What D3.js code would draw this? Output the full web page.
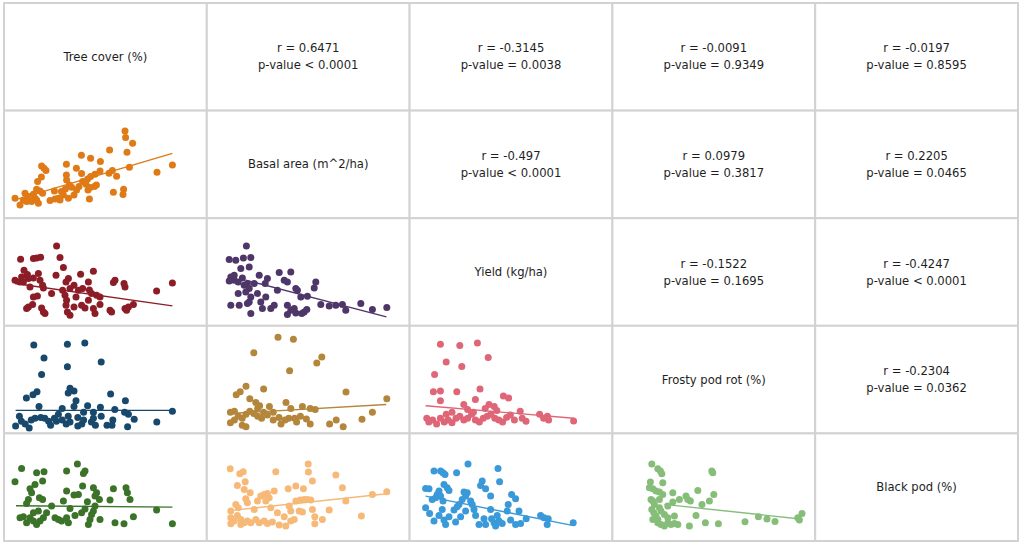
<!DOCTYPE html>
<html>
<head>
<meta charset="utf-8">
<script src="https://cdn.jsdelivr.net/npm/d3@7/dist/d3.min.js"></script>
<style>
  body { margin: 0; background: #fff; }
  text { font-family: "DejaVu Sans", Verdana, sans-serif; font-size: 11.6px; fill: #1e1e1e; }
</style>
</head>
<body>
<div class="chart"></div>
<script>
var svgWidth = 1021;
var svgHeight = 545;

// variables on the diagonal
var variables = ["Tree cover (%)", "Basal area (m^2/ha)", "Yield (kg/ha)", "Frosty pod rot (%)", "Black pod (%)"];

// correlations in the upper triangle: [row, col]
var corrCells = [[0, 1], [0, 2], [0, 3], [0, 4], [1, 2], [1, 3], [1, 4], [2, 3], [2, 4], [3, 4]];
var corrR = ["0.6471", "-0.3145", "-0.0091", "-0.0197", "-0.497", "0.0979", "0.2205", "-0.1522", "-0.4247", "-0.2304"];
var corrP = ["< 0.0001", "= 0.0038", "= 0.9349", "= 0.8595", "< 0.0001", "= 0.3817", "= 0.0465", "= 0.1695", "< 0.0001", "= 0.0362"];

// scatter panels in the lower triangle, values in % of axis range
var treeBasal = [[60.5,84.7],[60.8,78],[64.3,72.3],[61.5,63.3],[52.8,65.7],[38.7,60.3],[43.3,57.3],[48.2,54],[84.2,50.7],[76.5,43.3],[62.7,48.3],[56.3,39.3],[54.2,45],[52.5,42.3],[48,44.7],[45.5,41.3],[43.3,39],[41.8,36.7],[39.3,34],[37.5,29],[41,31.3],[43,28],[45.2,29],[46.2,30.7],[42,25.7],[42.7,16.7],[54.7,23.3],[59.8,26.3],[59.5,21],[31.2,51.3],[36.2,47.3],[38.8,42],[31.2,40.7],[31.3,35.7],[32.7,30.7],[33.8,28.3],[30.7,26.7],[28.7,24],[25.2,24.7],[23,15],[27.2,17.3],[29.7,20.7],[32.2,17.3],[35,20.7],[18.8,49.7],[20,47.3],[21,45],[18.7,38.7],[16.8,34],[16.3,26.3],[18,24.7],[19.3,22.3],[14.7,21.3],[12.2,19],[10.5,22.3],[9.7,15.7],[8,10.7],[5.5,17.3],[13.8,14],[17.2,12.3],[13,17.3],[15.5,17.3],[11.3,14],[25.5,16.7],[36.3,25.7],[14.2,19.7],[16.3,15.7],[28,15.7]];
var treeYield = [[26.3,77.3],[8.3,64],[14.7,64.7],[16.3,65.3],[18.3,66],[28,65.7],[29.7,55.7],[44.7,52],[38.3,49],[26,48],[5.5,43],[10,53],[11.7,48.7],[12.2,44.7],[9.7,41.3],[14.7,45.3],[17.2,49.7],[18,43],[19.3,38],[13,36.3],[19.7,35.3],[32.2,44.7],[31,41.3],[35,38],[33,34.7],[29.3,33],[23.8,29.7],[37.2,33],[42.2,41.3],[39.3,34.7],[42.7,33.3],[43.8,29.7],[46.3,28],[48,26.3],[55.5,43],[54.7,40.7],[60,39.7],[60.5,36.3],[76.3,32.3],[84.2,40.3],[14.7,26.3],[16.7,27.3],[14.3,18.7],[12.2,16.3],[11.3,14.7],[18.8,15.3],[19.7,11.3],[20.5,9.7],[30.5,28],[31.3,23],[31,18],[31.7,11.3],[33,8],[35,16.3],[38.8,18],[40.5,15.3],[42.2,23],[44.7,14.7],[45.5,9.7],[48,18.7],[53.8,11.3],[53,13],[60.5,14.7],[62.2,16.3],[64.7,18.7],[61.3,13],[36,26.3],[8,41.3],[8.8,46.3]];
var basalYield = [[19.8,77.3],[11.2,63.7],[14.5,63],[18.3,65.3],[22,65.7],[21.2,56.3],[17,54.7],[12,46.3],[13.7,43],[11.2,42.3],[15.7,41.3],[17.8,45.3],[18.7,38],[20.3,39.7],[19.5,31.3],[21.2,34.7],[23.7,39.7],[22,26.3],[20.3,19.7],[21.2,21.3],[15.7,29.7],[12,18],[16.2,18],[26.2,48],[30.3,44.7],[29.2,39.7],[25.3,29.7],[29.5,26.3],[33.7,18],[35.3,33],[36.2,50.7],[42,51.3],[38.7,43],[40.3,41.3],[44.5,34.7],[45.3,33],[47,26.3],[50.3,27],[53.7,35.3],[54.5,41.3],[40.3,18],[42,13],[43.7,14.7],[44.5,10.3],[40.3,8.7],[47.5,9.7],[48.7,11.3],[50,13.7],[57,18.7],[61.2,17.3],[64.5,18],[67.8,18.7],[69.5,13],[77,19.7],[82.8,13.7],[90,15.7],[32,14.7],[27.8,14.7],[22,9.7],[27,21.3],[13.7,48]];
var treeFrosty = [[14.9,85.8],[31.7,86.5],[40.4,87.7],[20,72.9],[31.7,64],[48.6,68.7],[18.8,56.2],[33,42.6],[35,39.9],[32.1,37.9],[16.5,39.1],[14.5,36],[11.2,32.9],[36,30.1],[53.3,36.8],[60.7,30.1],[17.5,24.3],[29.1,22.4],[35,24.3],[41.8,25.1],[48.2,23.5],[55.4,21.2],[60.3,18.5],[62.2,16.5],[27.2,16.5],[39.8,18.5],[44.7,18.5],[84.2,19.6],[5.8,4.9],[8.7,9.5],[10.6,6.8],[13.6,10.7],[15.5,12.6],[18.4,13.4],[20.4,12.6],[22.3,9.5],[26.2,9.5],[29.1,10.7],[31.1,6.8],[33,8.8],[36.9,4.9],[38.9,6.8],[39.8,10.7],[43.7,8.8],[45.7,5.6],[51.5,5.6],[54.4,10.7],[54,5.6],[65.1,11.5],[61.8,4.1],[76.4,8.8],[12.6,2.9],[23.3,5.6],[32.1,14.6],[36.9,13.4],[44.7,12.6],[48.6,14.6],[7.7,14.6],[25.2,12.6]];
var basalFrosty = [[35.6,93.6],[43.3,91.6],[23.5,78],[57.5,73.7],[55,67.9],[41.4,60.1],[19.6,44.5],[14.7,36],[16.7,39.1],[28.4,41.8],[21.5,32.1],[24.5,28.2],[26.4,25.1],[31.3,24.3],[39.6,28.2],[42,22.4],[47.8,24.3],[51.7,22.4],[54.2,21.2],[69.6,38.7],[90,32.1],[11.8,18.5],[13.8,19.6],[15.7,14.6],[17.7,12.6],[19.6,16.5],[21.5,19.6],[23.5,17.3],[25.4,14.6],[27.4,12.6],[28.4,18.5],[30.3,15.8],[33.2,10.7],[36.1,13.4],[39.1,10.7],[41,12.6],[43.9,12.6],[46.8,14.6],[49.8,11.9],[51.7,6.8],[44.9,8.8],[37.1,6.8],[17.7,5.6],[11.8,8],[13.8,10.7],[19.6,4.1],[61.4,6.8],[64.7,10.7],[68.2,4.1],[77.6,11.5],[82.8,18.5],[33.2,18.5],[25.4,22.4]];
var yieldFrosty = [[15.4,86.5],[25.1,85.4],[33.9,87.7],[18.3,68.7],[26.1,64.4],[39.3,73.3],[12.5,56.2],[11.9,39.1],[15.4,39.9],[23.6,39.1],[35.2,41.8],[15.4,30.1],[27.1,26.3],[32.9,31.3],[46.9,34.8],[49.5,32.9],[39.7,26.3],[42.3,24.3],[43.6,20.4],[8.6,12.6],[9.6,8.8],[11.5,10.7],[13.5,6.8],[15.4,12.6],[17.3,8.8],[19.3,10.7],[21.2,8],[23.2,12.6],[25.1,14.6],[27.1,10.7],[29,12.6],[31,16.5],[32.9,10.7],[34.9,8.8],[36.8,12.6],[38.8,14.6],[40.7,16.5],[42.6,12.6],[44.6,10.7],[46.5,8.8],[48.5,13.4],[50.4,15.8],[52.4,10.7],[55.3,19.6],[56.3,12.6],[58.2,9.5],[65,16.5],[67,12.6],[68.9,14.6],[69.5,10.7],[82,9.9],[31.9,18.5],[21.2,18.5],[37.8,22.4],[18.3,16.5],[29,21.2]];
var treeBlack = [[8.8,70],[5.5,56.7],[16.3,65.7],[20,66.7],[19.3,57.3],[15.5,54],[13,49.7],[13.8,45.7],[12.2,39],[11.3,35],[17.7,40.7],[19.3,39],[23.8,32.3],[29.7,37.3],[31.3,67.3],[36.7,74.3],[40.5,67.3],[39.7,65],[39.3,52.3],[31.3,47.3],[35,43.3],[37.2,44],[44.7,50.7],[46.3,45.7],[45.5,42.3],[47.7,39],[41.7,36.7],[33,30],[45.5,32.3],[53,38.3],[54.7,49.7],[61,50.7],[61.7,45.7],[63,39],[76.3,28.3],[84.2,14.7],[64.7,21.7],[48,19],[55.5,15.7],[60,14.7],[8,20.7],[9.7,21.7],[11.3,15.7],[13,20.7],[14.7,17.3],[16.3,14],[18,17.3],[19.7,20.7],[17.2,27.3],[14.7,25.7],[21.3,25.7],[25.5,20.7],[27.2,19],[28.8,17.3],[31.3,20.7],[32.2,15.7],[35.5,23],[38.8,25.7],[40.5,29.3],[42.2,14],[43,19],[44.7,27.3],[43.8,24]];
var basalBlack = [[11.7,69.7],[16.5,64.7],[18.2,66.7],[19.2,56.7],[15.3,53],[18.7,49],[21.7,45.7],[19.5,39.7],[20.3,35.7],[14.5,34],[12,27.3],[15.7,30.7],[23.7,29],[27,42.3],[28.7,44],[30.3,45],[31.2,40.7],[29.5,37.3],[33.7,47.3],[25.3,37.3],[32,30.7],[34.5,66.7],[40.7,49.7],[44.5,52.3],[48.3,49.7],[52.8,57.3],[50.7,74.3],[50.8,66.3],[64.5,63.3],[67.8,50.7],[44.5,37.3],[46.7,38.3],[48.7,39],[50.3,39],[52,38.3],[52.8,29],[69.5,37.3],[82.8,44],[90,46.7],[61.2,28.3],[77.3,22.3],[12,20.7],[13.7,17.3],[15.3,23],[17,19],[18.7,15.7],[20.3,17.3],[22,15.7],[24.5,19],[26.2,15.7],[28.7,17.3],[30.3,15],[17,14],[12,14.7],[36.2,13.3],[39.5,12.3],[38.7,21.7],[42,17.3],[43.7,19],[46.2,27.3],[47.8,26.3],[54,21.7],[54,14.7],[57.8,19],[35.3,25.7],[41.2,32.3],[42,27.3],[32.8,16.3]];
var yieldBlack = [[29.2,74.3],[12.2,67.3],[15.5,67.3],[16.7,65.7],[17.7,64],[23.5,65.7],[44.2,70],[45,56.7],[36.3,57.3],[35.5,53],[38,49.7],[8,50],[9.7,49.7],[17.2,54],[18.8,50.7],[19.7,48],[14.7,47.3],[13.8,44],[13,40.7],[11.3,39],[15.5,42.3],[16.7,37.3],[27.2,46.3],[28.8,45.7],[28,42.3],[26.3,39],[24.7,34],[23.8,31.7],[30.5,37.3],[31.3,34],[40.5,42.3],[51,44],[53,39.7],[49.3,34],[8,30.7],[10,25],[16.3,29],[14.7,23],[12.2,17.3],[17.2,18.3],[18,14],[19.7,21.7],[22.2,28.3],[23,16.3],[25.5,21.7],[28,27.3],[32.2,29],[33,23],[34.7,14],[37.2,19.7],[38,14],[40.5,29],[41,19.7],[42.2,15.7],[43,12.3],[44.7,17.3],[46.3,15],[43.8,23],[48.8,27.3],[50.5,18.3],[53,14],[54.7,27.3],[55.5,15],[58.3,19.7],[65.5,23],[67.2,20.7],[69.3,19.7],[68.8,14],[81.8,15.7]];
var frostyBlack = [[19.7,74.3],[22.7,69.7],[24,67.3],[24.7,64.7],[25.2,55.7],[19,56.3],[18.5,50.7],[20.2,49.7],[21.8,47.3],[23.5,46.3],[19.3,39],[20.2,37.3],[21,34],[19.7,29],[20.7,25.7],[21.8,22.3],[22.7,19],[20.2,19],[22.7,15.7],[24.3,14],[26,12.3],[27.7,15.7],[29.3,14],[31,15],[32.7,14],[27.7,20.7],[26,24],[24.3,27.3],[23.5,30.7],[27.7,32.3],[30.2,45.7],[30.2,36.3],[33.5,39],[36.8,42.3],[37.7,39],[39,37.3],[42.7,48],[44.8,34],[48.5,37.3],[50.7,44],[49.7,67.3],[50.2,65.7],[41.8,23],[38.5,12.3],[46.5,15.7],[53,14.7],[66.3,16.7],[73,21.7],[77.3,19.3],[81.3,17],[92.7,20.7],[93.5,18.3],[94.8,25],[31,22.3],[23.5,39],[25.2,44]];

// fitted lines: [x0, y0, x1, y1]
var fitLines = [
  [5.5, 15.7, 84.2, 62.3],
  [5.5, 39.7, 84.2, 17.3],
  [19.5, 43, 89.8, 6.3],
  [5.8, 20.4, 84.2, 20.4],
  [11.4, 17.3, 89.7, 26.3],
  [8, 25.1, 82, 12.6],
  [6, 32.7, 84.2, 31.3],
  [13.7, 28.3, 90, 44.7],
  [8, 42.3, 81.3, 13],
  [26, 34, 92.7, 19.7]
];
var panelRows = [1, 2, 2, 3, 3, 3, 4, 4, 4, 4];
var panelCols = [0, 0, 1, 0, 1, 2, 0, 1, 2, 3];
var panelColors = ["#df7a16", "#8c1d26", "#4f3669", "#18486c", "#b4863c", "#de6677", "#3b7329", "#f7b978", "#3a99d8", "#86be79"];
var panelPoints = [treeBasal, treeYield, basalYield, treeFrosty, basalFrosty, yieldFrosty, treeBlack, basalBlack, yieldBlack, frostyBlack];

var svg = d3.select(".chart")
    .append("svg")
    .attr("width", svgWidth)
    .attr("height", svgHeight);

var idx = d3.range(variables.length);
var colScale = d3.scaleBand().domain(idx).range([4, 1018]);
var rowScale = d3.scaleBand().domain(idx).range([3, 541]);
var cw = colScale.bandwidth();
var ch = rowScale.bandwidth();

// grid cells
var cells = [];
idx.forEach(r => idx.forEach(c => cells.push([r, c])));
svg.selectAll(".cell")
    .data(cells)
    .join("rect")
    .attr("class", "cell")
    .attr("x", d => colScale(d[1]))
    .attr("y", d => rowScale(d[0]))
    .attr("width", cw)
    .attr("height", ch)
    .attr("fill", "#fff")
    .attr("stroke", "#d2d2d2")
    .attr("stroke-width", 2);

// diagonal labels
svg.selectAll(".diag")
    .data(variables)
    .join("text")
    .attr("class", "diag")
    .attr("x", (d, i) => colScale(i) + cw / 2)
    .attr("y", (d, i) => rowScale(i) + ch / 2)
    .attr("text-anchor", "middle")
    .attr("dominant-baseline", "central")
    .text(d => d);

// correlation text
var corr = svg.selectAll(".corr")
    .data(corrCells)
    .join("g")
    .attr("class", "corr")
    .attr("transform", d => `translate(${colScale(d[1]) + cw / 2},${rowScale(d[0]) + ch / 2})`);
corr.append("text")
    .attr("y", -8.5)
    .attr("text-anchor", "middle")
    .attr("dominant-baseline", "central")
    .text((d, i) => "r = " + corrR[i]);
corr.append("text")
    .attr("y", 8.5)
    .attr("text-anchor", "middle")
    .attr("dominant-baseline", "central")
    .text((d, i) => "p-value " + corrP[i]);

// scatter panels
panelPoints.forEach(function(pts, k) {
    var x0 = colScale(panelCols[k]);
    var y0 = rowScale(panelRows[k]);
    var x = d3.scaleLinear().domain([0, 100]).range([x0, x0 + 200]);
    var y = d3.scaleLinear().domain([0, 100]).range([y0 + 105, y0 + 5]);
    var g = svg.append("g");
    g.selectAll("circle")
        .data(pts)
        .join("circle")
        .attr("cx", d => x(d[0]))
        .attr("cy", d => y(d[1]))
        .attr("r", 3.5)
        .attr("fill", panelColors[k]);
    var f = fitLines[k];
    g.append("line")
        .attr("x1", x(f[0])).attr("y1", y(f[1]))
        .attr("x2", x(f[2])).attr("y2", y(f[3]))
        .attr("stroke", panelColors[k])
        .attr("stroke-width", 1.4);
});
</script>
</body>
</html>
